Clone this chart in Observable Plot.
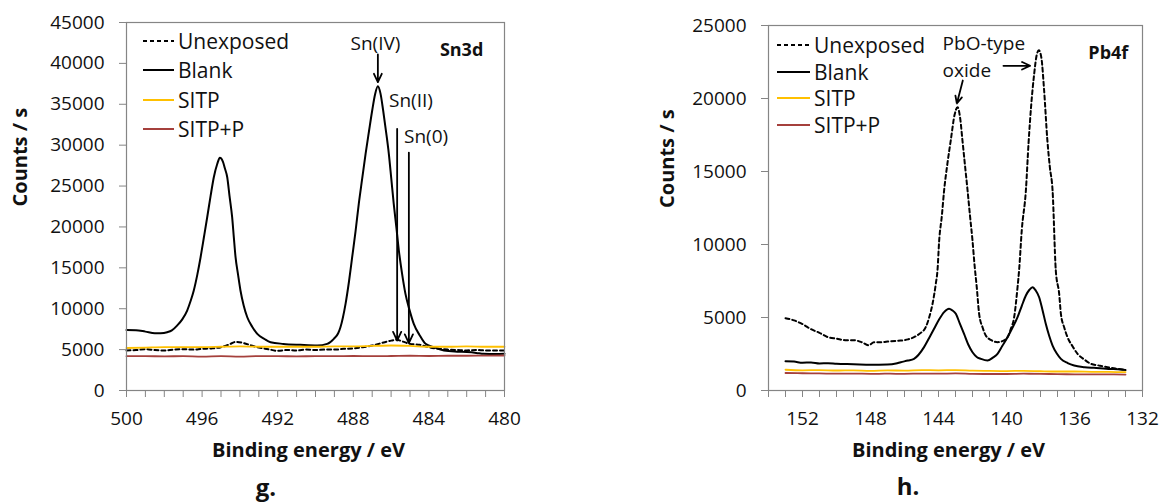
<!DOCTYPE html>
<html><head><meta charset="utf-8">
<script src="https://cdn.jsdelivr.net/npm/d3@7"></script>
<script src="https://cdn.jsdelivr.net/npm/@observablehq/plot@0.6"></script>
<style>
body{margin:0;background:#fff;font-family:"Open Sans",sans-serif;}
#wrap{position:relative;width:1163px;height:502px;overflow:hidden;background:#fff;}
.p{position:absolute;top:0;}
.leg{position:absolute;display:flex;align-items:center;height:30px;font-size:21px;color:#111;white-space:nowrap;}
.leg svg{margin-right:4px;}
.cap{position:absolute;font-weight:bold;font-size:24px;line-height:24px;color:#111;transform:translate(-50%,-50%);}
</style></head><body>
<div id="wrap"></div>
<script>
// ---------- series meta ----------
const seriesNames = ["Unexposed", "Blank", "SITP", "SITP+P"];
const seriesColors = ["#000000", "#000000", "#FFC000", "#A5403C"];
const seriesDash = ["4,3", null, null, null];

// ---------- Sn3d panel (g.) : [binding energy eV, counts/s] ----------
const snUnexposed = [[500,4900],[499.5,4950],[499,5050],[498.5,4950],[498,4900],[497.5,5000],[497,5050],[496.5,5000],[496,5100],[495.5,5150],[495,5300],[494.6,5600],[494.2,5950],[493.8,5800],[493.4,5500],[493,5250],[492.5,5050],[492,4850],[491.5,4950],[491,4900],[490.5,5000],[490,4950],[489.5,5000],[489,5000],[488.5,5100],[488,5150],[487.5,5300],[487,5500],[486.5,5800],[486,6100],[485.7,6200],[485.4,6000],[485,5700],[484.5,5600],[484,5300],[483.5,5100],[483,5000],[482.5,4950],[482,4900],[481.5,4950],[481,4900],[480.5,4900],[480,4900]];
const snBlank = [[500,7400],[499.5,7380],[499,7200],[498.5,7000],[498.2,7010],[497.85,7130],[497.6,7350],[497.32,7950],[497.05,8700],[496.79,9780],[496.6,11000],[496.44,12230],[496.25,14200],[496.08,16300],[495.9,18800],[495.73,21190],[495.55,23800],[495.38,26080],[495.2,27700],[495.06,28450],[494.9,28000],[494.8,27200],[494.67,26080],[494.55,23800],[494.41,21190],[494.32,18700],[494.23,16300],[494.1,14200],[493.97,12230],[493.8,10400],[493.61,8960],[493.35,7800],[493.08,6930],[492.7,6300],[492.38,5910],[491.7,5700],[490.8,5580],[489.9,5500],[489.38,5700],[489.03,6320],[488.8,7000],[488.68,7740],[488.41,10600],[488.23,13300],[488.06,16300],[487.88,19500],[487.71,22830],[487.53,25900],[487.35,28940],[487.17,31700],[487.0,34240],[486.85,36200],[486.7,37200],[486.56,36300],[486.42,34240],[486.27,31700],[486.12,28940],[485.99,25900],[485.86,22830],[485.72,19900],[485.59,17120],[485.42,14300],[485.24,11820],[485.02,9800],[484.8,8150],[484.5,6800],[484.18,5710],[483.74,5300],[483.2,4900],[482.5,4750],[482,4700],[481.5,4600],[481.1,4480],[480.5,4450],[480,4500]];
const snSITP = [[500,5200],[499,5250],[498,5300],[497,5300],[496,5300],[495,5350],[494,5400],[493,5350],[492,5350],[491,5350],[490,5350],[489,5400],[488,5400],[487,5450],[486,5500],[485,5450],[484,5350],[483,5350],[482,5400],[481,5350],[480,5350]];
const snSITPP = [[500,4200],[499,4200],[498,4180],[497,4200],[496,4150],[495,4200],[494,4150],[493,4200],[492,4200],[491,4180],[490,4200],[489,4200],[488,4220],[487,4200],[486,4220],[485,4250],[484,4220],[483,4250],[482,4250],[481,4270],[480,4280]];
const snXTicks = d3.range(480, 501);
const snYTicks = d3.range(0, 45001, 5000);
const snNotes = [{label:"Sn(IV)", e:486.83, c:42400},{label:"Sn(II)", e:484.95, c:35400},{label:"Sn(0)", e:484.15, c:31000}];
const snTitle = [{label:"Sn3d", e:482.27, c:41600}];
const snArrows = [{e1:486.7,c1:41100,e2:486.7,c2:37700},{e1:485.68,c1:32000,e2:485.68,c2:6100},{e1:485.06,c1:29100,e2:485.06,c2:5800}];

// ---------- Pb4f panel (h.) ----------
const pbUnexposed = [[153,4950],[152.5,4800],[152,4550],[151.5,4200],[151,3950],[150.5,3650],[150,3550],[149.5,3450],[149,3450],[148.5,3300],[148.1,3100],[147.8,3300],[147.5,3300],[147,3350],[146.5,3400],[146.22,3420],[145.8,3500],[145.44,3650],[145.1,3900],[144.75,4340],[144.55,5000],[144.35,5940],[144.16,7300],[144.06,8220],[143.96,10270],[143.8,12000],[143.67,13700],[143.48,15500],[143.28,17120],[143.05,18900],[142.88,19400],[142.72,18600],[142.59,17120],[142.44,15400],[142.29,13700],[142.15,12000],[142.0,10270],[141.88,8600],[141.75,7080],[141.61,5250],[141.4,4300],[141.22,3770],[140.9,3450],[140.53,3310],[140.2,3400],[139.94,3650],[139.75,4200],[139.55,5020],[139.35,7080],[139.26,8220],[139.1,11000],[138.86,13700],[138.7,17000],[138.55,19500],[138.38,21600],[138.22,23000],[138.1,23300],[137.95,22800],[137.79,20600],[137.6,17200],[137.45,15300],[137.29,13700],[137.1,8220],[136.9,6600],[136.8,5250],[136.6,4300],[136.41,3650],[136.1,3000],[135.82,2510],[135.4,2100],[135.04,1830],[134.5,1700],[134.06,1600],[133.6,1500],[133.18,1440],[133,1420]];
const pbBlank = [[153,2000],[152.5,1980],[152,1900],[151.5,1920],[151,1850],[150.5,1870],[150,1830],[149,1800],[148,1760],[147,1780],[146.5,1850],[146.22,1940],[145.8,2050],[145.44,2170],[144.85,2970],[144.55,3600],[144.26,4230],[143.95,4900],[143.67,5370],[143.38,5600],[143.2,5500],[142.98,5250],[142.75,4600],[142.49,3860],[142.25,3150],[142.0,2620],[141.75,2300],[141.51,2170],[141.12,2050],[140.8,2250],[140.53,2510],[140.25,3050],[139.94,3650],[139.65,4300],[139.35,5020],[139.1,5800],[138.86,6510],[138.65,6900],[138.47,7080],[138.28,6850],[138.08,6390],[137.88,5500],[137.69,4570],[137.49,3750],[137.29,3080],[137.05,2550],[136.8,2170],[136.4,1880],[136.02,1710],[135.4,1600],[134.85,1550],[134,1480],[133.28,1440],[133,1400]];
const pbSITP = [[153,1420],[152,1380],[151,1400],[150,1370],[149,1380],[148,1350],[147,1380],[146,1360],[145,1400],[144,1380],[143,1400],[142,1360],[141,1340],[140,1330],[139,1350],[138,1320],[137,1300],[136,1300],[135,1280],[134,1270],[133,1260]];
const pbSITPP = [[153,1200],[152,1180],[151,1170],[150,1150],[149,1160],[148,1140],[147,1150],[146,1140],[145,1160],[144,1150],[143,1170],[142,1140],[141,1130],[140,1130],[139,1150],[138,1140],[137,1120],[136,1110],[135,1100],[134,1100],[133,1090]];
const pbXTicks = d3.range(132, 155);
const pbYTicks = d3.range(0, 25001, 5000);
const pbNotes = [{label:"PbO-type", e:143.76, c:23770},{label:"oxide", e:143.76, c:21920}];
const pbTitle = [{label:"Pb4f", e:134.01, c:23080}];
const pbArrows = [{e1:140.18,c1:22240,e2:138.61,c2:22240},{e1:142.57,c1:21230,e2:142.92,c2:19660}];

const wrap = document.getElementById("wrap");
const toRows = (pairs) => pairs.map(([e, c]) => ({e, c}));

function panel(o) {
  const series = [o.unexp, o.blank, o.sitp, o.sitpp];
  const marks = [];
  series.forEach((s, i) => {
    marks.push(Plot.line(toRows(s), {
      x: "e", y: "c", stroke: seriesColors[i], strokeWidth: i < 2 ? 2 : 1.8,
      strokeDasharray: seriesDash[i] || undefined, curve: "monotone-x"
    }));
  });
  marks.push(
    Plot.frame({stroke: "#858585", strokeWidth: 1.2}),
    Plot.axisX({ticks: o.xTicks, tickSize: 7, tickPadding: 14, stroke: "#858585", fill: "#111", fontSize: 19,
      tickFormat: d => d % 4 === 0 ? String(d) : "", label: null}),
    Plot.axisY({ticks: o.yTicks, tickSize: 7, tickPadding: 15, stroke: "#858585", fill: "#111", fontSize: 19,
      tickFormat: d => String(d), label: null}),
    Plot.text(["Counts / s"], {text: d => d, frameAnchor: "left", dx: o.ylabDx, rotate: -90, fontWeight: "bold", fontSize: 20, fill: "#111"}),
    Plot.text(["Binding energy / eV"], {text: d => d, frameAnchor: "bottom", dy: 66, dx: -7, fontWeight: "bold", fontSize: 20, fill: "#111"}),
    Plot.arrow(o.arrows, {x1: "e1", y1: "c1", x2: "e2", y2: "c2", stroke: "#000", strokeWidth: 1.8, headLength: 8, headAngle: 50}),
    Plot.text(o.notes, {x: "e", y: "c", text: "label", fontSize: 19, fill: "#111", textAnchor: o.noteAnchor}),
    Plot.text(o.title, {x: "e", y: "c", text: "label", fontSize: 18, fontWeight: "bold", fill: "#111"})
  );
  const svg = Plot.plot({
    width: o.width, height: 472,
    marginLeft: o.ml, marginRight: o.mr, marginTop: o.mt, marginBottom: 82,
    x: {domain: o.xDomain},
    y: {domain: o.yDomain},
    style: {fontFamily: "Open Sans", background: "transparent", overflow: "visible"},
    marks
  });
  const div = document.createElement("div");
  div.className = "p";
  div.style.left = o.left + "px";
  div.appendChild(svg);
  wrap.appendChild(div);
}

panel({left: 0, width: 560, ml: 126, mr: 56, mt: 22, xDomain: [500, 480], yDomain: [0, 45000],
  xTicks: snXTicks, yTicks: snYTicks, ylabDx: -106,
  unexp: snUnexposed, blank: snBlank, sitp: snSITP, sitpp: snSITPP,
  notes: snNotes, noteAnchor: "middle", title: snTitle, arrows: snArrows});
panel({left: 620, width: 543, ml: 148, mr: 21, mt: 25, xDomain: [154, 132], yDomain: [0, 25000],
  xTicks: pbXTicks, yTicks: pbYTicks, ylabDx: -101,
  unexp: pbUnexposed, blank: pbBlank, sitp: pbSITP, sitpp: pbSITPP,
  notes: pbNotes, noteAnchor: "start", title: pbTitle, arrows: pbArrows});

// legends (HTML overlays)
function legend(x, ys, swW) {
  seriesNames.forEach((name, i) => {
    const row = document.createElement("div");
    row.className = "leg";
    row.style.left = x + "px";
    row.style.top = (ys[i] - 15) + "px";
    const dash = seriesDash[i] ? `stroke-dasharray="${seriesDash[i]}"` : "";
    row.innerHTML = `<svg width="${swW}" height="4"><line x1="0" y1="2" x2="${swW}" y2="2" stroke="${seriesColors[i]}" stroke-width="2" ${dash}/></svg><span>${name}</span>`;
    wrap.appendChild(row);
  });
}
legend(143, [41, 70, 99.5, 129], 31);
legend(777, [45, 71.5, 98, 125], 33);

// captions
[["g.", 266, 487], ["h.", 908, 486]].forEach(([t, x, y]) => {
  const c = document.createElement("div");
  c.className = "cap"; c.textContent = t;
  c.style.left = x + "px"; c.style.top = y + "px";
  wrap.appendChild(c);
});
</script></body></html>
